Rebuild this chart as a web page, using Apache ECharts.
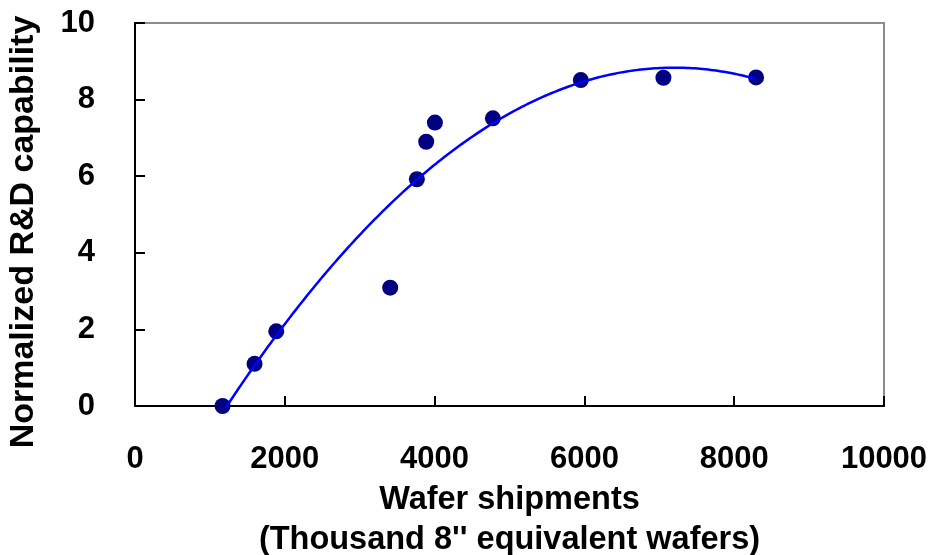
<!DOCTYPE html>
<html>
<head>
<meta charset="utf-8">
<script src="https://cdn.jsdelivr.net/npm/echarts@6/dist/echarts.min.js"></script>
<style>
  html, body { margin: 0; padding: 0; background: #fff; }
  #chart { width: 932px; height: 555px; }
</style>
</head>
<body>
<div id="chart"></div>
<script>
// Wafer shipments (thousand 8" equivalent wafers) vs normalized R&D capability
const shipments = [1169, 1596, 1886, 3407, 3763, 3888, 4004, 4778, 5952, 7055, 8292];
const capability = [0.0, 1.10, 1.95, 3.09, 5.92, 6.90, 7.40, 7.51, 8.51, 8.57, 8.58];
const xTicks = [0, 2000, 4000, 6000, 8000, 10000];
const yTicks = [0, 2, 4, 6, 8, 10];

// Second-order polynomial least-squares trendline through the points
function fitQuadratic(xs, ys) {
  const s = 1000; // scale x for numerical stability
  const S = [0, 0, 0, 0, 0], T = [0, 0, 0];
  for (let i = 0; i < xs.length; i++) {
    const x = xs[i] / s;
    let p = 1;
    for (let k = 0; k < 5; k++) { S[k] += p; if (k < 3) T[k] += p * ys[i]; p *= x; }
  }
  const A = [[S[0], S[1], S[2], T[0]], [S[1], S[2], S[3], T[1]], [S[2], S[3], S[4], T[2]]];
  for (let c = 0; c < 3; c++) {
    for (let r = c + 1; r < 3; r++) {
      const f = A[r][c] / A[c][c];
      for (let k = c; k < 4; k++) A[r][k] -= f * A[c][k];
    }
  }
  const b = [0, 0, 0];
  for (let r = 2; r >= 0; r--) {
    let v = A[r][3];
    for (let k = r + 1; k < 3; k++) v -= A[r][k] * b[k];
    b[r] = v / A[r][r];
  }
  return x => { const u = x / s; return b[0] + b[1] * u + b[2] * u * u; };
}

const trend = fitQuadratic(shipments, capability);
const xMin = Math.min(...shipments), xMax = Math.max(...shipments);
const trendData = [];
for (let i = 0; i <= 200; i++) {
  const x = xMin + (xMax - xMin) * i / 200;
  trendData.push([x, trend(x)]);
}

const font = '"Liberation Sans", Arial, sans-serif';
const chart = echarts.init(document.getElementById('chart'), null, { renderer: 'canvas' });
chart.setOption({
  animation: false,
  backgroundColor: '#ffffff',
  grid: {
    left: 135, right: 48, top: 23, bottom: 149,
    outerBoundsMode: 'none', containLabel: false,
    show: true, borderColor: '#8c8c8c', borderWidth: 2, backgroundColor: 'transparent'
  },
  xAxis: {
    type: 'value', min: xTicks[0], max: xTicks[xTicks.length - 1], interval: 2000,
    axisLine: { show: true, onZero: false, lineStyle: { color: '#000', width: 2 } },
    axisTick: { show: true, inside: true, length: 10, lineStyle: { color: '#000', width: 2 } },
    splitLine: { show: false },
    axisLabel: {
      margin: 38, color: '#000', fontFamily: font, fontWeight: 'bold', fontSize: 31,
      formatter: v => String(v)
    },
    name: 'Wafer shipments\n(Thousand 8\'\' equivalent wafers)',
    nameLocation: 'middle', nameGap: 67,
    nameTextStyle: { color: '#000', fontFamily: font, fontWeight: 'bold', fontSize: 32.5, lineHeight: 40 }
  },
  yAxis: {
    type: 'value', min: yTicks[0], max: yTicks[yTicks.length - 1], interval: 2,
    axisLine: { show: true, onZero: false, lineStyle: { color: '#000', width: 2 } },
    axisTick: { show: true, inside: true, length: 10, lineStyle: { color: '#000', width: 2 } },
    splitLine: { show: false },
    axisLabel: {
      margin: 40, color: '#000', fontFamily: font, fontWeight: 'bold', fontSize: 31,
      formatter: v => String(v)
    },
    name: 'Normalized R&D capability',
    nameLocation: 'middle', nameGap: 94, nameRotate: 90,
    nameTextStyle: { color: '#000', fontFamily: font, fontWeight: 'bold', fontSize: 34, padding: [0, 35, 0, 0] }
  },
  series: [
    {
      type: 'line', data: trendData, showSymbol: false, smooth: false, clip: true,
      lineStyle: { color: '#0000ff', width: 2.5 }, z: 3
    },
    {
      type: 'scatter', data: shipments.map((x, i) => [x, capability[i]]),
      symbol: 'circle', symbolSize: 16,
      itemStyle: { color: '#000080', opacity: 1 }, z: 2
    }
  ]
});
</script>
</body>
</html>
